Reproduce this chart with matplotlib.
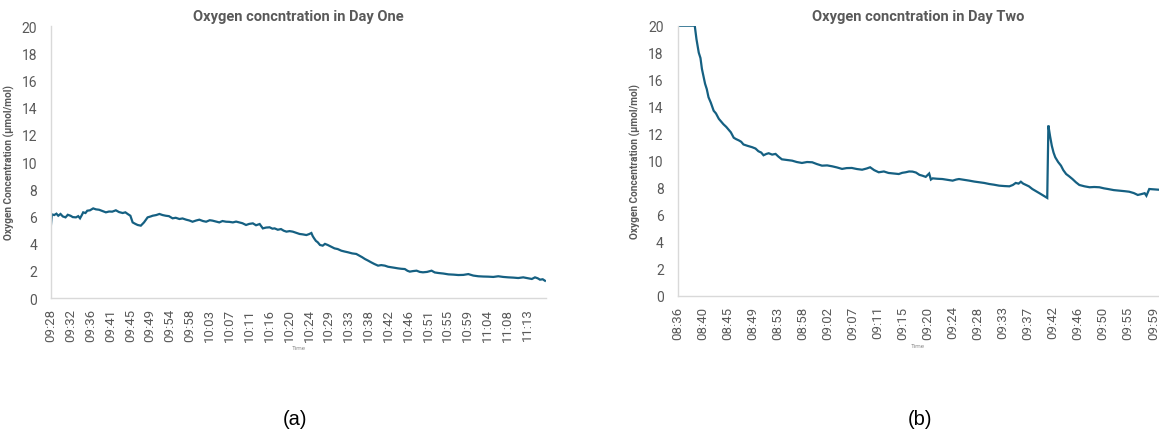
import numpy as np
import matplotlib
matplotlib.use("Agg")
import matplotlib.pyplot as plt
from matplotlib import font_manager

# ---- Day one: minutes after 09:28, O2 in umol/mol ----
day1_min = [0.0, 0.2, 0.7, 1.2, 1.6, 2.1, 2.6, 3.2, 3.7, 4.3, 4.8, 5.5, 6.0, 6.4, 6.8,
            7.1, 7.6, 8.0, 8.6, 9.3, 9.9, 10.6, 11.3, 12.1, 12.8, 13.5, 14.3, 15.0, 15.8,
            16.4, 16.9, 17.5, 17.8, 18.0, 18.6, 19.1, 19.8, 20.5, 21.0, 21.3, 22.0, 22.4,
            23.2, 23.9, 24.6, 25.3, 26.0, 26.8, 27.5, 28.3, 29.0, 29.8, 30.5, 31.2, 32.0,
            32.7, 33.5, 34.2, 35.0, 35.6, 36.4, 37.1, 37.8, 38.6, 39.3, 40.1, 40.8, 41.5,
            42.2, 43.0, 43.7, 44.5, 45.2, 46.0, 46.7, 47.4, 48.2, 48.8, 49.3, 50.0, 50.7,
            51.3, 51.9, 52.6, 53.3, 54.0, 54.8, 55.5, 56.3, 56.9, 57.4, 57.7, 58.0, 58.4,
            58.8, 59.3, 59.9, 60.4, 61.0, 61.7, 62.5, 63.2, 64.0, 64.7, 65.5, 66.4, 67.3,
            68.0, 68.6, 69.2, 69.9, 70.6, 71.3, 72.1, 72.8, 73.6, 74.3, 75.1, 75.8, 76.5,
            77.2, 78.0, 78.6, 79.1, 79.8, 80.6, 81.3, 82.0, 82.9, 83.9, 84.6, 85.4, 86.5,
            87.6, 88.7, 89.8, 90.9, 92.0, 93.1, 94.2, 95.3, 96.4, 97.5, 98.6, 99.7, 100.8,
            101.9, 103.0, 104.1, 105.2, 106.0, 106.7, 107.3, 107.8, 108.4, 108.9]
day1_o2 = [5.40, 6.15, 6.10, 6.20, 6.05, 6.18, 6.00, 5.93, 6.12, 6.05, 5.95, 5.93, 6.02, 5.86, 6.10,
           6.30, 6.25, 6.42, 6.45, 6.59, 6.52, 6.49, 6.40, 6.30, 6.36, 6.35, 6.45, 6.32, 6.25,
           6.30, 6.18, 6.05, 5.75, 5.56, 5.45, 5.37, 5.32, 5.56, 5.80, 5.93, 6.00, 6.05,
           6.10, 6.18, 6.10, 6.05, 6.02, 5.86, 5.90, 5.81, 5.85, 5.76, 5.70, 5.61, 5.70,
           5.76, 5.66, 5.61, 5.72, 5.69, 5.62, 5.56, 5.66, 5.61, 5.60, 5.56, 5.62, 5.56,
           5.50, 5.37, 5.45, 5.49, 5.35, 5.44, 5.12, 5.18, 5.20, 5.10, 5.12, 5.02, 5.07,
           4.95, 4.88, 4.92, 4.88, 4.80, 4.71, 4.68, 4.63, 4.70, 4.78, 4.55, 4.39, 4.20,
           4.10, 3.90, 3.85, 3.98, 3.90, 3.78, 3.65, 3.60, 3.48, 3.42, 3.36, 3.28, 3.24,
           3.11, 3.00, 2.87, 2.75, 2.62, 2.50, 2.38, 2.42, 2.38, 2.30, 2.26, 2.22, 2.18,
           2.15, 2.13, 2.00, 1.94, 1.98, 2.01, 1.92, 1.89, 1.92, 2.01, 1.88, 1.84, 1.80,
           1.74, 1.72, 1.69, 1.70, 1.76, 1.65, 1.60, 1.58, 1.57, 1.55, 1.60, 1.55, 1.52,
           1.50, 1.47, 1.52, 1.45, 1.40, 1.52, 1.45, 1.35, 1.38, 1.27]
day1_ticks = ["09:28", "09:32", "09:36", "09:41", "09:45", "09:49", "09:54", "09:58",
              "10:03", "10:07", "10:11", "10:16", "10:20", "10:24", "10:29", "10:33",
              "10:38", "10:42", "10:46", "10:51", "10:55", "10:59", "11:04", "11:08", "11:13"]

# ---- Day two: minutes after 08:36 ----
day2_min = [0.0, 3.0, 3.3, 3.7, 4.0, 4.25, 4.5, 4.8, 5.1, 5.4, 5.8, 6.3, 6.7, 7.2, 7.6, 8.0,
            8.5, 8.9, 9.3, 9.8, 10.2, 10.7, 11.1, 11.5, 12.2, 13.0, 13.6, 14.1, 14.6, 15.0,
            15.5, 15.9, 16.5, 17.1, 17.6, 18.2, 19.1, 20.0, 20.8, 21.7, 22.6, 23.5, 24.3,
            25.2, 26.1, 27.0, 27.8, 28.7, 29.5, 30.4, 31.3, 32.2, 33.0, 33.6, 34.3, 35.1,
            36.0, 36.8, 37.7, 38.6, 39.2, 39.8, 40.4, 41.0, 41.6, 42.2, 42.7, 43.3, 43.9,
            44.2, 44.5, 45.3, 46.2, 47.1, 48.0, 48.6, 49.1, 50.0, 50.9, 51.8, 52.6, 53.5,
            54.4, 55.2, 56.1, 57.0, 57.9, 58.5, 59.0, 59.5, 59.9, 60.3, 60.8, 61.3, 61.9,
            63.1, 64.5, 64.7, 65.0, 65.3, 65.6, 65.9, 66.4, 66.9, 67.3, 67.8, 68.3, 68.9,
            69.5, 70.1, 71.0, 71.9, 72.7, 73.6, 74.4, 75.1, 76.1, 77.1, 78.0, 78.8, 79.6,
            80.3, 80.9, 81.5, 81.8, 82.3, 83.0, 83.9]
day2_o2 = [20.0, 20.0, 19.0, 18.0, 17.6, 16.8, 16.3, 15.7, 15.3, 14.7, 14.3, 13.7, 13.5, 13.1, 12.9, 12.7,
           12.5, 12.3, 12.1, 11.7, 11.6, 11.5, 11.4, 11.2, 11.1, 11.0, 10.9, 10.7, 10.6, 10.4,
           10.5, 10.55, 10.45, 10.5, 10.3, 10.1, 10.05, 10.0, 9.9, 9.83, 9.9, 9.88, 9.75,
           9.63, 9.65, 9.58, 9.5, 9.39, 9.45, 9.46, 9.38, 9.33, 9.42, 9.51, 9.3, 9.14,
           9.2, 9.09, 9.05, 9.01, 9.1, 9.14, 9.2, 9.19, 9.12, 8.95, 8.89, 8.8, 9.05,
           8.6, 8.69, 8.66, 8.64, 8.58, 8.52, 8.6, 8.64, 8.58, 8.52, 8.45, 8.4, 8.35,
           8.27, 8.22, 8.15, 8.12, 8.1, 8.2, 8.35, 8.3, 8.44, 8.3, 8.2, 8.1, 7.9,
           7.6, 7.24, 12.6, 11.8, 11.1, 10.6, 10.25, 9.9, 9.63, 9.3, 9.01, 8.85, 8.64,
           8.4, 8.2, 8.1, 8.03, 8.05, 8.03, 7.95, 7.9, 7.82, 7.78, 7.74, 7.7, 7.6,
           7.46, 7.52, 7.59, 7.4, 7.9, 7.88, 7.85]
day2_ticks = ["08:36", "08:40", "08:45", "08:49", "08:53", "08:58", "09:02", "09:07",
              "09:11", "09:15", "09:20", "09:24", "09:28", "09:33", "09:37", "09:42",
              "09:46", "09:50", "09:55", "09:59"]

LINE = "#156082"
GREY = "#595959"
AXIS = "#d9d9d9"

installed = {f.name for f in font_manager.fontManager.ttflist}
body_font = "Roboto" if "Roboto" in installed else "DejaVu Sans"
plt.rcParams["font.family"] = [body_font, "DejaVu Sans"]

fig = plt.figure(figsize=(11.59, 4.35), dpi=100)
ax1 = fig.add_axes([0.044, 0.3126, 0.427, 0.6253])
ax2 = fig.add_axes([0.5846, 0.318, 0.4154, 0.6207])


def style(ax, minutes, values, ticks, span, xmax, title):
    ax.plot(minutes, values, color=LINE, lw=1.6, solid_joinstyle="miter")
    ax.set_xlim(0, xmax)
    ax.set_ylim(0, 20)
    ax.set_yticks(range(0, 21, 2))
    ax.set_xticks(np.linspace(0, span, len(ticks)))
    ax.set_xticklabels(ticks, rotation=90)
    ax.tick_params(axis="both", length=0, colors=GREY, labelsize=9.5)
    ax.tick_params(axis="y", pad=10, labelsize=10)
    ax.tick_params(axis="x", pad=7)
    for side in ("top", "right"):
        ax.spines[side].set_visible(False)
    for side in ("left", "bottom"):
        ax.spines[side].set_color(AXIS)
        ax.spines[side].set_linewidth(1.0)
    ax.set_title(title, fontsize=10.5, fontweight="bold", color=GREY, pad=4)
    ax.set_ylabel("Oxygen Concentration (µmol/mol)", fontsize=7.3,
                  fontweight="bold", color=GREY, labelpad=5)
    ax.set_xlabel("Time", fontsize=4.5, color="#8c8c8c", labelpad=3)


style(ax1, day1_min, day1_o2, day1_ticks, 105, 109.1, "Oxygen concntration in Day One")
style(ax2, day2_min, day2_o2, day2_ticks, 83, 84.0, "Oxygen concntration in Day Two")

fig.text(295 / 1159, 1 - 420 / 435, "(a)", ha="center", va="center",
         fontsize=14.5, family=["Liberation Sans", "DejaVu Sans"])
fig.text(920 / 1159, 1 - 420 / 435, "(b)", ha="center", va="center",
         fontsize=14.5, family=["Liberation Sans", "DejaVu Sans"])

fig.savefig("out.png", dpi=100, facecolor="white")
